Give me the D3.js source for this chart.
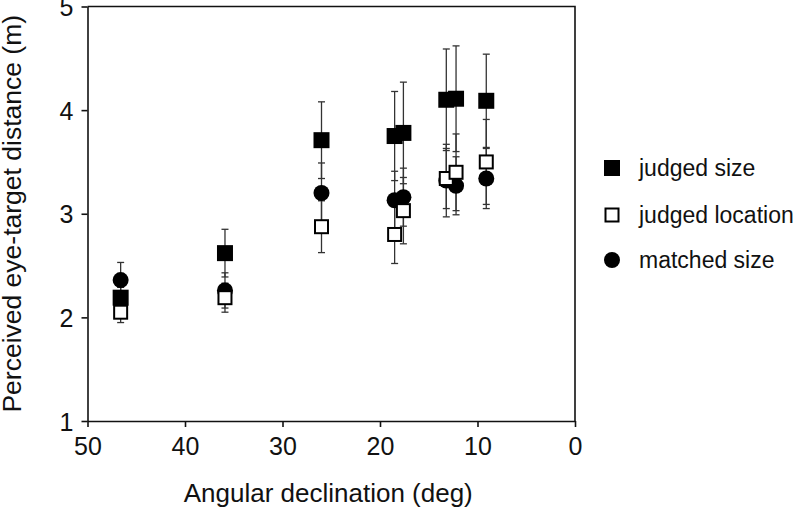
<!DOCTYPE html>
<html>
<head>
<meta charset="utf-8">
<script src="https://cdn.jsdelivr.net/npm/d3@7"></script>
<style>
  html, body { margin: 0; padding: 0; background: #fff; }
  svg text { font-family: "Liberation Sans", Arial, sans-serif; fill: #111; }
</style>
</head>
<body>
<svg id="chart" width="800" height="511"></svg>
<script>
// angular declination (deg), shared by all three series
const angles = [46.6, 35.9, 26.0, 18.5, 17.6, 13.2, 12.2, 9.1];

const judgedSize = [2.19, 2.62, 3.71, 3.75, 3.78, 4.10, 4.11, 4.09];
const judgedSizeErr = [0.10, 0.23, 0.37, 0.43, 0.49, 0.49, 0.51, 0.45];

const judgedLocation = [2.05, 2.19, 2.875, 2.80, 3.03, 3.34, 3.40, 3.50];
const judgedLocationErr = [0.10, 0.14, 0.25, 0.28, 0.32, 0.29, 0.37, 0.41];

const matchedSize = [2.36, 2.26, 3.20, 3.13, 3.16, 3.32, 3.27, 3.34];
const matchedSizeErr = [0.17, 0.17, 0.29, 0.28, 0.28, 0.35, 0.28, 0.29];

const xTicks = [50, 40, 30, 20, 10, 0];
const yTicks = [1, 2, 3, 4, 5];

const seriesNames = ['judged size', 'judged location', 'matched size'];

const margin = {top: 6.5, right: 225, bottom: 90, left: 87.5};
const width = 800, height = 511;

const svg = d3.select('svg#chart');

const x = d3.scaleLinear().domain([50, 0]).range([margin.left, width - margin.right]);
const y = d3.scaleLinear().domain([1, 5]).range([height - margin.bottom, margin.top]);

const series = [
  {name: seriesNames[0], vals: judgedSize, errs: judgedSizeErr, shape: 'filledSquare'},
  {name: seriesNames[1], vals: judgedLocation, errs: judgedLocationErr, shape: 'openSquare'},
  {name: seriesNames[2], vals: matchedSize, errs: matchedSizeErr, shape: 'circle'}
];

// axes
const xAxis = g => g
  .attr('transform', `translate(0,${y(1)})`)
  .call(d3.axisBottom(x).tickValues(xTicks).tickFormat(d3.format('d'))
    .tickSize(6).tickSizeOuter(0).tickPadding(10))
  .call(g => g.selectAll('text').style('font-size', '25px'));

const yAxis = g => g
  .attr('transform', `translate(${x(50)},0)`)
  .call(d3.axisLeft(y).tickValues(yTicks).tickFormat(d3.format('d'))
    .tickSize(6).tickSizeOuter(0).tickPadding(8))
  .call(g => g.selectAll('text').style('font-size', '25px').attr('dy', '0.36em'));

svg.append('g').attr('class', 'axis').call(xAxis);
svg.append('g').attr('class', 'axis').call(yAxis);

svg.selectAll('.axis path, .axis line')
  .attr('stroke', '#111')
  .attr('stroke-width', 1.6);
svg.selectAll('.axis text').attr('fill', '#111').attr('font-family', null);

// top and right frame
svg.append('path')
  .attr('d', `M${x(50)},${y(5)}H${x(0)}V${y(1)}`)
  .attr('fill', 'none')
  .attr('stroke', '#111')
  .attr('stroke-width', 1.6);

// error bars
const capHalf = 3.5;
series.forEach(s => {
  const g = svg.append('g').attr('stroke', '#333').attr('stroke-width', 1.3).attr('fill', 'none');
  s.vals.forEach((v, i) => {
    const cx = x(angles[i]);
    const top = y(v + s.errs[i]);
    const bot = y(v - s.errs[i]);
    g.append('line').attr('x1', cx).attr('x2', cx).attr('y1', top).attr('y2', bot);
    g.append('line').attr('x1', cx - capHalf).attr('x2', cx + capHalf).attr('y1', top).attr('y2', top);
    g.append('line').attr('x1', cx - capHalf).attr('x2', cx + capHalf).attr('y1', bot).attr('y2', bot);
  });
});

function drawMarker(g, shape, cx, cy) {
  if (shape === 'filledSquare') {
    g.append('rect').attr('x', cx - 8).attr('y', cy - 8).attr('width', 16).attr('height', 16)
      .attr('fill', '#000');
  } else if (shape === 'openSquare') {
    g.append('rect').attr('x', cx - 6.5).attr('y', cy - 6.5).attr('width', 13).attr('height', 13)
      .attr('fill', '#fff').attr('stroke', '#000').attr('stroke-width', 2);
  } else {
    g.append('circle').attr('cx', cx).attr('cy', cy).attr('r', 8).attr('fill', '#000');
  }
}

// markers: filled squares, then circles, then open squares on top
[series[0], series[2], series[1]].forEach(s => {
  const g = svg.append('g');
  s.vals.forEach((v, i) => drawMarker(g, s.shape, x(angles[i]), y(v)));
});

// axis titles
svg.append('text')
  .attr('x', (x(50) + x(0)) / 2 - 3)
  .attr('y', 502)
  .attr('text-anchor', 'middle')
  .style('font-size', '26px')
  .text('Angular declination (deg)');

svg.append('text')
  .attr('transform', `translate(21,${(y(1) + y(5)) / 2}) rotate(-90)`)
  .attr('text-anchor', 'middle')
  .style('font-size', '26.5px')
  .text('Perceived eye-target distance (m)');

// legend
const legendY = [168, 215, 260];
series.forEach((s, i) => {
  const g = svg.append('g');
  drawMarker(g, s.shape, 612, legendY[i]);
  g.append('text')
    .attr('x', 639)
    .attr('y', legendY[i])
    .attr('dy', '0.35em')
    .style('font-size', '23px')
    .text(s.name);
});
</script>
</body>
</html>
